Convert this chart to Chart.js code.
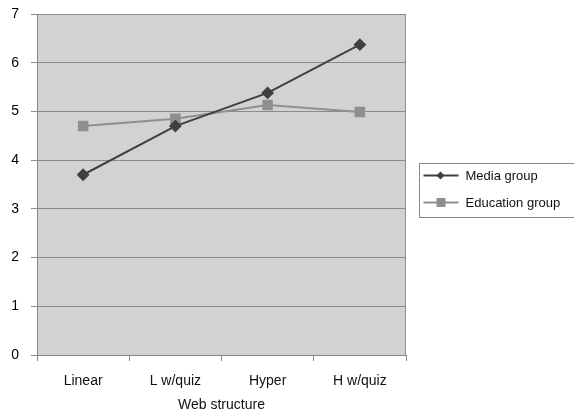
<!DOCTYPE html>
<html lang="en">
<head>
    <meta charset="UTF-8">
    <title>Web structure</title>
    <script src="https://cdn.jsdelivr.net/npm/chart.js"></script>
    <style>
        html, body { margin: 0; padding: 0; background: #fff; }
        #wrap { width: 574px; height: 414px; }
    </style>
</head>
<body>
<div id="wrap"><canvas id="myChart" width="574" height="414"></canvas></div>
<script>
    const categories = ['Linear', 'L w/quiz', 'Hyper', 'H w/quiz'];
    const mediaGroup = [3.70, 4.70, 5.38, 6.37];
    const educationGroup = [4.70, 4.85, 5.13, 4.99];
    const yTicks = [0, 1, 2, 3, 4, 5, 6, 7];

    const fontFamily = '"Liberation Sans", Arial, Helvetica, sans-serif';

    // grey plot background + border
    const plotBg = {
        id: 'plotBg',
        beforeDraw(chart) {
            const {ctx, chartArea: a} = chart;
            ctx.save();
            ctx.fillStyle = '#d2d3d1';
            ctx.fillRect(a.left, a.top, a.right - a.left, a.bottom - a.top);
            ctx.restore();
        },
        afterDatasetsDraw(chart) {
            const {ctx, chartArea: a} = chart;
            ctx.save();
            ctx.strokeStyle = '#8a8a8a';
            ctx.lineWidth = 1;
            ctx.strokeRect(a.left + 0.5, a.top + 0.5, a.right - a.left - 1, a.bottom - a.top);
            ctx.restore();
        }
    };

    // boxed legend on the right
    const boxLegend = {
        id: 'boxLegend',
        afterDraw(chart) {
            const ctx = chart.ctx;
            const x = 419.5, y = 163.5, w = 160, h = 54;
            ctx.save();
            ctx.strokeStyle = '#888';
            ctx.lineWidth = 1;
            ctx.strokeRect(x, y, w, h);
            ctx.font = '13px ' + fontFamily;
            ctx.textBaseline = 'middle';
            chart.data.datasets.forEach((ds, i) => {
                const cy = y + 12 + i * 27;
                ctx.strokeStyle = ds.borderColor;
                ctx.lineWidth = ds.borderWidth;
                ctx.beginPath();
                ctx.moveTo(x + 4, cy);
                ctx.lineTo(x + 39, cy);
                ctx.stroke();
                ctx.fillStyle = ds.pointBackgroundColor;
                if (ds.pointStyle === 'rectRot') {
                    ctx.beginPath();
                    ctx.moveTo(x + 21, cy - 4);
                    ctx.lineTo(x + 25, cy);
                    ctx.lineTo(x + 21, cy + 4);
                    ctx.lineTo(x + 17, cy);
                    ctx.closePath();
                    ctx.fill();
                } else {
                    ctx.fillRect(x + 17, cy - 4.5, 9, 9);
                }
                ctx.fillStyle = '#111';
                ctx.fillText(ds.label, x + 46, cy + 1);
            });
            ctx.restore();
        }
    };

    new Chart(document.getElementById('myChart'), {
        type: 'line',
        data: {
            labels: categories,
            datasets: [{
                label: 'Media group',
                data: mediaGroup,
                borderColor: '#3f4040',
                backgroundColor: '#3f4040',
                pointBackgroundColor: '#3f4040',
                pointBorderColor: '#3f4040',
                borderWidth: 2,
                pointStyle: 'rectRot',
                pointRadius: 5,
                tension: 0
            }, {
                label: 'Education group',
                data: educationGroup,
                borderColor: '#8e8f8f',
                backgroundColor: '#8e8f8f',
                pointBackgroundColor: '#8e8f8f',
                pointBorderColor: '#8e8f8f',
                borderWidth: 2,
                pointStyle: 'rect',
                pointRadius: 6,
                tension: 0
            }]
        },
        options: {
            responsive: false,
            animation: false,
            layout: {padding: {top: 14, right: 168, left: 0, bottom: 0}},
            plugins: {legend: {display: false}, tooltip: {enabled: false}},
            scales: {
                x: {
                    offset: true,
                    grid: {display: true, drawOnChartArea: false, drawTicks: true, tickLength: 6, color: '#8a8a8a', offset: true},
                    border: {color: '#8a8a8a'},
                    ticks: {color: '#111', font: {family: fontFamily, size: 14}, padding: 12},
                    title: {display: true, text: 'Web structure', color: '#111', font: {family: fontFamily, size: 14}, padding: {top: 4, bottom: 0}},
                    afterFit(scale) { scale.height = 59; scale.paddingLeft = 0; scale.paddingRight = 0; }
                },
                y: {
                    min: 0,
                    max: 7,
                    afterBuildTicks(scale) { scale.ticks = yTicks.map(v => ({value: v})); },
                    grid: {color: '#8a8a8a', tickLength: 6, lineWidth: 1},
                    border: {color: '#8a8a8a'},
                    ticks: {color: '#000', font: {family: fontFamily, size: 14}, padding: 12},
                    afterFit(scale) { scale.width = 37; scale.paddingTop = 0; scale.paddingBottom = 0; }
                }
            }
        },
        plugins: [plotBg, boxLegend]
    });
</script>
</body>
</html>
